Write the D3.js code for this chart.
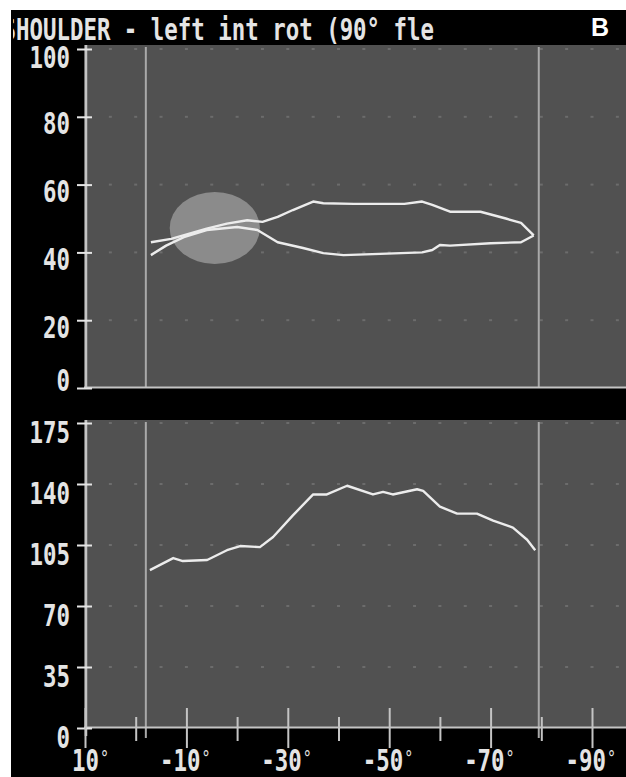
<!DOCTYPE html>
<html>
<head>
<meta charset="utf-8">
<script src="https://cdn.jsdelivr.net/npm/d3@7/dist/d3.min.js"></script>
<style>
  html, body { margin: 0; padding: 0; background: #fff; }
  svg { display: block; }
</style>
</head>
<body>
<div id="chart"></div>
<script>
// ---- data ----
const titleText = 'SHOULDER - left int rot (90\u00b0 fle';
const panelLetter = 'B';

const xTicks = [10, 0, -10, -20, -30, -40, -50, -60, -70, -80, -90];
const xLabels = [10, -10, -30, -50, -70, -90];

const topTicks = [0, 20, 40, 60, 80, 100];
const botTicks = [0, 35, 70, 105, 140, 175];

// range markers (degrees)
const markers = [-2, -79.5];

// highlighted zone in the upper plot: [centre deg, centre value, half-width deg, half-height value]
const zone = [-15.6, 47.2, 8.9, 10.6];

// upper plot, outbound branch (degrees, value)
const topOutDeg = [-3, -7, -14, -18, -22, -25, -28, -31, -35, -37, -43, -53, -56.5, -58.5, -62, -68, -73, -76, -78.5];
const topOutVal = [43, 44, 47, 48.5, 49.5, 49, 50.5, 52.5, 55, 54.5, 54.3, 54.3, 55, 54, 52, 52, 50, 48.7, 45];

// upper plot, return branch
const topRetDeg = [-78.5, -76, -70, -62, -60, -58.5, -56.5, -41, -37, -33, -28, -24, -20, -14, -9.5, -6, -3];
const topRetVal = [45, 43, 42.7, 42, 42.2, 40.7, 40, 39.2, 39.8, 41.3, 43, 46.6, 47.5, 46.6, 44.5, 42, 39.2];

// lower plot
const botDeg = [-2.8, -7.4, -9.3, -14.1, -18, -20.6, -24.5, -27.1, -31, -35, -37.7, -41.7, -46.8, -48.8, -50.7, -55.5, -56.7, -60, -63.4, -67.3, -70.5, -74.4, -77.2, -78.8];
const botVal = [90.6, 97.5, 95.8, 96.4, 102, 104.4, 103.8, 109.6, 122, 134, 134, 139, 134, 135.5, 134, 137, 136, 127, 123, 123, 119, 115, 108, 102];

// ---- drawing ----
const W = 626, H = 777;
const bg = '#515151', ink = '#e4e4e4', frame = '#c4c4c4';
const monoFont = '"DejaVu Sans Mono", monospace';
const fs = 22.4, stretch = 1.35;

const svg = d3.select('#chart').append('svg')
    .attr('width', W).attr('height', H);

svg.append('rect').attr('x', 11).attr('y', 10).attr('width', W - 11).attr('height', H - 10).attr('fill', '#000');

const x = d3.scaleLinear().domain([10, -90]).range([85, 592]);
const plotRight = W;

const yTop = d3.scaleLinear().domain([0, 100]).range([388, 49]);
const yBot = d3.scaleLinear().domain([0, 175]).range([728, 423]);

const panels = [
    { y: yTop, ticks: topTicks, top: 45, bottom: 388, labelDy: d => d === 0 ? 2 : (d === 100 ? 18 : 17) },
    { y: yBot, ticks: botTicks, top: 420, bottom: 728, labelDy: () => 19 }
];

const line = d3.line().x(d => x(d[0]));

panels.forEach((p, i) => {
    const g = svg.append('g');
    g.append('rect')
        .attr('x', 84).attr('y', p.top)
        .attr('width', plotRight - 84).attr('height', p.bottom - p.top)
        .attr('fill', bg);

    // faint dotted grid: a dot every 5 degrees at each tick level
    const dotDegs = d3.range(5, -97, -5);
    p.ticks.filter(t => t > 0).forEach(t => {
        g.selectAll(null).data(dotDegs).join('rect')
            .attr('x', d => x(d) - 1.5).attr('y', p.y(t) - 1)
            .attr('width', 3).attr('height', 2)
            .attr('fill', '#6c6c6c');
    });

    // range markers
    g.selectAll(null).data(markers).join('line')
        .attr('x1', d => x(d)).attr('x2', d => x(d))
        .attr('y1', p.top + 2).attr('y2', p.bottom + (i === 1 ? 10 : 0))
        .attr('stroke', '#a9a9a9').attr('stroke-width', 2);

    // frame lines
    g.append('line').attr('x1', 84).attr('x2', plotRight)
        .attr('y1', p.bottom - 0.5).attr('y2', p.bottom - 0.5)
        .attr('stroke', frame).attr('stroke-width', 2);

    // y axis
    const ax = g.append('g')
        .attr('transform', `translate(86,0)`)
        .call(d3.axisLeft(p.y).tickValues(p.ticks).tickSize(9).tickSizeOuter(0).tickFormat(d3.format('d')));
    ax.select('.domain')
        .attr('d', `M0,${p.top}V${p.bottom + (i === 1 ? 8 : 0)}`)
        .attr('stroke', frame).attr('stroke-width', 2.5);
    ax.selectAll('.tick line').attr('x1', 6).attr('stroke', ink).attr('stroke-width', 2);
    ax.selectAll('.tick text')
        .attr('x', null).attr('dy', null).attr('y', null)
        .attr('text-anchor', 'end')
        .attr('transform', d => `translate(-16,${p.labelDy(d)}) scale(1,${stretch})`)
        .attr('fill', ink)
        .style('font-family', monoFont).style('font-size', fs + 'px').style('font-weight', 'bold');
});

// zone ellipse in upper plot
svg.append('ellipse')
    .attr('cx', x(zone[0])).attr('cy', yTop(zone[1]))
    .attr('rx', Math.abs(x(zone[0] + zone[2]) - x(zone[0])))
    .attr('ry', Math.abs(yTop(zone[1] + zone[3]) - yTop(zone[1])))
    .attr('fill', '#8b8b8b');

// curves
const topOut = topOutDeg.map((d, i) => [d, topOutVal[i]]);
const topRet = topRetDeg.map((d, i) => [d, topRetVal[i]]);
const bot = botDeg.map((d, i) => [d, botVal[i]]);

[[topOut, yTop], [topRet, yTop], [bot, yBot]].forEach(([data, y]) => {
    svg.append('path').datum(data)
        .attr('d', line.y(d => y(d[1]))(data))
        .attr('fill', 'none').attr('stroke', '#ececec')
        .attr('stroke-width', 2.4).attr('stroke-linejoin', 'round');
});

// x axis under the lower plot
const xa = svg.append('g')
    .attr('transform', `translate(0,728)`)
    .call(d3.axisBottom(x).tickValues(xTicks).tickSize(0).tickFormat(''));
xa.select('.domain').remove();
xa.selectAll('.tick line')
    .attr('y1', d => xLabels.includes(d) ? -20 : -11)
    .attr('y2', d => xLabels.includes(d) ? 20 : 13)
    .attr('stroke', frame).attr('stroke-width', 2);
xa.selectAll('.tick text').remove();
const charW = fs * 0.602;
xa.selectAll('.tick').filter(d => xLabels.includes(d)).each(function (d) {
    const t = d3.select(this);
    t.append('text')
        .attr('text-anchor', 'end')
        .attr('transform', `translate(${charW},43) scale(1,${stretch})`)
        .attr('fill', ink)
        .style('font-family', monoFont).style('font-size', fs + 'px').style('font-weight', 'bold')
        .text(d);
    t.append('text')
        .attr('text-anchor', 'start')
        .attr('transform', `translate(${charW + 1},37) scale(1,${stretch})`)
        .attr('fill', ink)
        .style('font-family', monoFont).style('font-size', '15px')
        .text('\u00b0');
});

// title, clipped by the black panel
svg.append('clipPath').attr('id', 'panelClip')
    .append('rect').attr('x', 13).attr('y', 10).attr('width', W - 13).attr('height', 34);
svg.append('g')
    .attr('clip-path', 'url(#panelClip)')
    .append('text')
    .attr('transform', `translate(2.5,40) scale(1,${stretch})`)
    .attr('fill', ink)
    .style('font-family', monoFont).style('font-size', fs + 'px').style('font-weight', 'bold')
    .text(titleText);

svg.append('text')
    .attr('x', 591).attr('y', 36)
    .attr('fill', '#fff')
    .style('font-family', '"Liberation Sans", Arial, sans-serif')
    .style('font-size', '25px').style('font-weight', 'bold')
    .text(panelLetter);
</script>
</body>
</html>
